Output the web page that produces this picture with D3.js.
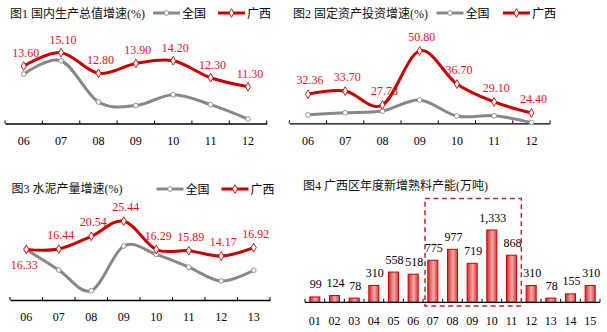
<!DOCTYPE html>
<html><head><meta charset="utf-8">
<script src="https://cdn.jsdelivr.net/npm/d3@7"></script>
<style>
body{margin:0;background:#fff;}
svg{display:block;}
</style></head>
<body>
<svg id="c" width="607" height="332"></svg>
<script>
// ---- data ----
const years1 = ["06","07","08","09","10","11","12"];
const gdpNational = [12.7, 14.2, 9.6, 9.2, 10.4, 9.3, 7.7];
const gdpGuangxi  = [13.60, 15.10, 12.80, 13.90, 14.20, 12.30, 11.30];

const years2 = ["06","07","08","09","10","11","12"];
const fixNational = [23.6, 24.5, 25.2, 29.9, 23.1, 23.2, 20.3];
const fixGuangxi  = [32.36, 33.70, 27.78, 50.80, 36.70, 29.10, 24.40];

const years3 = ["06","07","08","09","10","11","12","13"];
const cemNational = [16.3, 9.7, 3.0, 17.4, 14.7, 10.6, 6.1, 9.6];
const cemGuangxi  = [16.33, 16.44, 20.54, 25.44, 16.29, 15.89, 14.17, 16.92];

const years4 = ["01","02","03","04","05","06","07","08","09","10","11","12","13","14","15"];
const clinker = [99, 124, 78, 310, 558, 518, 775, 977, 719, 1333, 868, 310, 78, 155, 310];
const highlightFrom = "07", highlightTo = "11";

const titles = ["图1 国内生产总值增速(%)", "图2 固定资产投资增速(%)", "图3 水泥产量增速(%)", "图4 广西区年度新增熟料产能(万吨)"];
const seriesNames = ["全国", "广西"];

// ---- styles ----
const RED = "#c80000", GRAY = "#888888", LABEL = "#e8101a";
const NUMFONT = "'Liberation Serif','Times New Roman',serif";
const CJK = "'Liberation Serif','Noto Sans CJK SC',sans-serif";
const svg = d3.select("#c");

function fmt2(v){ return d3.format(".2f")(v); }

function lineChart(o){
  const g = svg.append("g");
  const x = d3.scaleBand().domain(o.cats).range(o.xr);
  const cx = c => x(c) + x.bandwidth()/2;
  const y = d3.scaleLinear().domain(o.yd).range(o.yr);
  // axis
  const axis = d3.axisBottom(x).tickSize(0).tickPadding(0).tickFormat("");
  const ag = g.append("g").attr("transform", `translate(0,${o.yr[0]})`).call(axis);
  ag.select(".domain").attr("stroke","#000").attr("stroke-width",1.3);
  const bounds = o.cats.map(c => x(c)).concat([o.xr[1]]);
  g.selectAll(".tk").data(bounds).join("line")
    .attr("x1", d=>d).attr("x2", d=>d)
    .attr("y1", o.yr[0]).attr("y2", o.yr[0]-3)
    .attr("stroke","#000").attr("stroke-width",1);
  g.selectAll(".xl").data(o.cats).join("text")
    .attr("x", c=>cx(c)).attr("y", o.xlabelY)
    .attr("text-anchor","middle").attr("font-family",NUMFONT).attr("font-size",12)
    .attr("fill","#000").text(c=>c);
  const line = d3.line().x((d,i)=>cx(o.cats[i])).y(d=>y(d)).curve(d3.curveCardinal.tension(0));
  // national
  g.append("path").attr("d", line(o.nat)).attr("fill","none").attr("stroke",GRAY).attr("stroke-width",3);
  g.selectAll(".mn").data(o.nat).join("path")
    .attr("d", d3.symbol(d3.symbolCircle, 18)())
    .attr("transform",(d,i)=>`translate(${cx(o.cats[i])},${y(d)})`)
    .attr("fill","#fff").attr("stroke",GRAY).attr("stroke-width",0.9);
  // guangxi
  g.append("path").attr("d", line(o.gx)).attr("fill","none").attr("stroke",RED).attr("stroke-width",3);
  g.selectAll(".mg").data(o.gx).join("path")
    .attr("d", d3.symbol(d3.symbolDiamond, 22)())
    .attr("transform",(d,i)=>`translate(${cx(o.cats[i])},${y(d)})`)
    .attr("fill","#fff").attr("stroke",RED).attr("stroke-width",0.9);
  g.selectAll(".lb").data(o.gx).join("text")
    .attr("x",(d,i)=>cx(o.cats[i]) + 2 + (o.belowFirst && i===0 ? -4 : 0))
    .attr("y",(d,i)=> (o.belowFirst && i===0) ? y(d)+20 : y(d)-o.labOff)
    .attr("text-anchor","middle").attr("font-family",NUMFONT).attr("font-size",12)
    .attr("fill",LABEL).text(d=>fmt2(d));
  // title
  g.append("text").attr("x",o.title[0]).attr("y",o.title[1]).attr("font-family",CJK)
    .attr("font-size",12).attr("fill","#111").text(o.titleText);
  // legend
  const L = o.legend; // [x gray start, x red start, y]
  const items = [{x:L[0], c:GRAY, sym:d3.symbolCircle, s:18, name:seriesNames[0]},
                 {x:L[1], c:RED, sym:d3.symbolDiamond, s:22, name:seriesNames[1]}];
  items.forEach(it=>{
    g.append("line").attr("x1",it.x).attr("x2",it.x+27).attr("y1",L[2]).attr("y2",L[2])
      .attr("stroke",it.c).attr("stroke-width",3);
    g.append("path").attr("d",d3.symbol(it.sym,it.s)()).attr("transform",`translate(${it.x+13.5},${L[2]})`)
      .attr("fill","#fff").attr("stroke",it.c).attr("stroke-width",0.9);
    g.append("text").attr("x",it.x+29).attr("y",L[2]+4.5).attr("font-family","'Noto Sans CJK SC',sans-serif")
      .attr("font-size",12).attr("fill","#000").text(it.name);
  });
}

lineChart({cats:years1, nat:gdpNational, gx:gdpGuangxi, xr:[5,266.7], yd:[7.2,16], yr:[123.5,44.6],
  xlabelY:144.5, labOff:9, title:[10,17.5], titleText:titles[0], legend:[153,218,13]});
lineChart({cats:years2, nat:fixNational, gx:fixGuangxi, xr:[289.3,550], yd:[20,55], yr:[123.3,41],
  xlabelY:144.5, labOff:10, title:[293,17.5], titleText:titles[1], legend:[436.5,503,13]});
lineChart({cats:years3, nat:cemNational, gx:cemGuangxi, xr:[10,270], yd:[0,30], yr:[300,207],
  xlabelY:320.5, labOff:10, belowFirst:true, title:[11.5,193], titleText:titles[2], legend:[156.5,221.5,189]});

// ---- bar chart ----
(function(){
  const g = svg.append("g");
  const x = d3.scaleBand().domain(years4).range([305,600]).paddingInner(0.49).paddingOuter(0.245);
  const xb = d3.scaleBand().domain(years4).range([305,600]);
  const y = d3.scaleLinear().domain([0,1333]).range([302.3,230]);
  const defs = svg.append("defs");
  const gr = defs.append("linearGradient").attr("id","bg").attr("x1","0").attr("x2","1").attr("y1","0").attr("y2","0");
  [[0,"#d42a2a"],[0.55,"#f2aaaa"],[1,"#d83a3a"]].forEach(s=>gr.append("stop").attr("offset",s[0]).attr("stop-color",s[1]));
  g.selectAll(".bar").data(clinker).join("rect")
    .attr("x",(d,i)=>x(years4[i])).attr("width",x.bandwidth())
    .attr("y",d=>y(d)).attr("height",d=>y(0)-y(d))
    .attr("fill","url(#bg)").attr("stroke","#cc0000").attr("stroke-width",1);
  g.append("line").attr("x1",305).attr("x2",600).attr("y1",y(0)).attr("y2",y(0)).attr("stroke","#000").attr("stroke-width",1.3);
  const bounds = years4.map(c=>xb(c)).concat([600]);
  g.selectAll(".tk").data(bounds).join("line").attr("x1",d=>d).attr("x2",d=>d)
    .attr("y1",y(0)).attr("y2",y(0)-3.5).attr("stroke","#000");
  g.selectAll(".xl").data(years4).join("text")
    .attr("x",c=>xb(c)+xb.bandwidth()/2).attr("y",324.5).attr("text-anchor","middle")
    .attr("font-family",NUMFONT).attr("font-size",12).attr("fill","#000").text(c=>c);
  g.selectAll(".lb").data(clinker).join("text")
    .attr("x",(d,i)=>xb(years4[i])+xb.bandwidth()/2+1).attr("y",d=>y(d)-8.5).attr("text-anchor","middle")
    .attr("font-family",NUMFONT).attr("font-size",12).attr("fill","#000").text(d=>d3.format(",")(d));
  // highlight box
  const x0 = xb(highlightFrom)+2, x1 = xb(highlightTo)+xb.bandwidth();
  g.append("rect").attr("x",x0).attr("y",198.5).attr("width",x1-x0).attr("height",107.5)
    .attr("fill","none").attr("stroke","#c0262b").attr("stroke-width",1.5).attr("stroke-dasharray","5,3.5");
  g.append("text").attr("x",303).attr("y",189.5).attr("font-family",CJK).attr("font-size",12)
    .attr("fill","#111").text(titles[3]);
})();
</script>
</body></html>
